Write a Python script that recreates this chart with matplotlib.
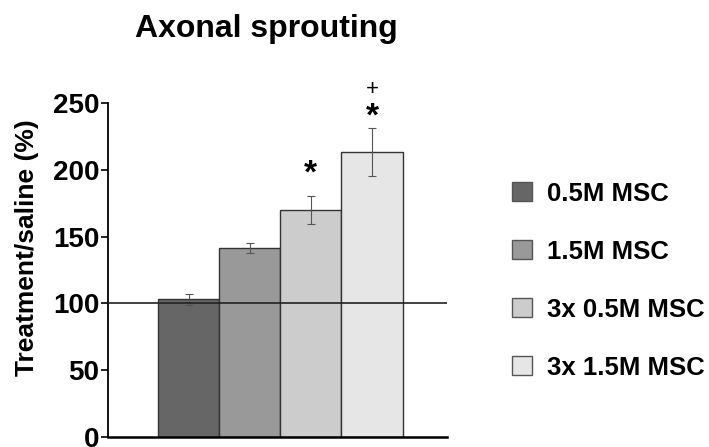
import numpy as np
import matplotlib
matplotlib.use('Agg')
import matplotlib.pyplot as plt
from matplotlib.patches import Patch

plt.rcParams['font.family'] = ['Liberation Sans', 'DejaVu Sans']

# 数据
groups = ['0.5M MSC', '1.5M MSC', '3x 0.5M MSC', '3x 1.5M MSC']
values = [103, 141.5, 170, 213.5]
errors = [4, 4, 10.5, 18]
colors = ['#666666', '#999999', '#cccccc', '#e6e6e6']
# 显著性标记位置 (数据坐标, 基线)
star_y = [None, None, 190, 233]
plus_y = [None, None, None, 256]
yticks = [0, 50, 100, 150, 200, 250]

fig = plt.figure(figsize=(7.09, 4.47), dpi=100)
ax = fig.add_axes([0.152, 0.022, 0.478, 0.748])

x = np.arange(len(values))
ax.bar(x, values, width=1.0, color=colors, edgecolor='#333333', linewidth=1.0, zorder=2)
ax.errorbar(x, values, yerr=errors, fmt='none', ecolor='#555555', elinewidth=0.8,
            capsize=3, capthick=0.8, zorder=3)

# 100% 参考线
ax.axhline(100, color='#222222', linewidth=1.2, zorder=4)

for i in range(len(values)):
    if star_y[i] is not None:
        ax.text(x[i], star_y[i], '*', ha='center', va='baseline', fontsize=24,
                fontweight='bold', clip_on=False)
    if plus_y[i] is not None:
        ax.text(x[i], plus_y[i], '+', ha='center', va='baseline', fontsize=16,
                clip_on=False)

ax.set_xlim(-1.32, 4.22)
ax.set_ylim(0, 250)
ax.set_yticks(yticks)
ax.set_yticklabels([str(t) for t in yticks], fontsize=20, fontweight='bold')
ax.set_xticks([])
ax.set_ylabel('Treatment/saline (%)', fontsize=19, fontweight='bold')
ax.yaxis.set_label_coords(-0.203, 0.566)

for s in ['top', 'right']:
    ax.spines[s].set_visible(False)
ax.spines['left'].set_linewidth(1.3)
ax.spines['bottom'].set_linewidth(1.8)
ax.tick_params(axis='y', length=5, width=1.2, pad=1)

fig.text(0.376, 0.935, 'Axonal sprouting', ha='center', va='center', fontsize=23,
         fontweight='bold')

handles = [Patch(facecolor=c, edgecolor='#555555', label=g) for c, g in zip(colors, groups)]
leg = fig.legend(handles=handles, loc='center left', bbox_to_anchor=(0.69, 0.372),
                 frameon=False, prop={'size': 18.5, 'weight': 'bold'},
                 handlelength=0.75, handleheight=0.75, labelspacing=1.32, handletextpad=0.6)

fig.savefig('out.png', dpi=100)
